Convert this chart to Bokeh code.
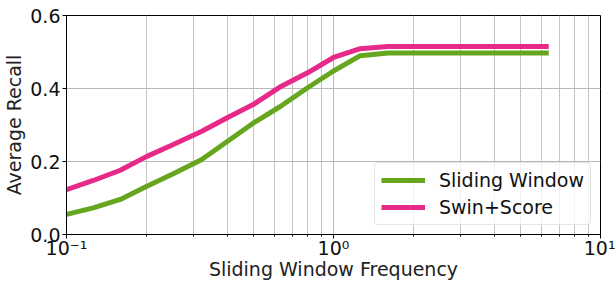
from bokeh.plotting import figure
from bokeh.embed import file_html
from bokeh.resources import INLINE
from bokeh.models import Legend, LegendItem, FixedTicker

freq = [0.1, 0.126, 0.159, 0.2, 0.25, 0.32, 0.4, 0.5, 0.63, 0.8, 1.0, 1.26, 1.6, 3.2, 6.4]
sliding_window = [0.055, 0.073, 0.096, 0.132, 0.166, 0.205, 0.255, 0.305, 0.350, 0.402, 0.448, 0.490, 0.497, 0.497, 0.497]
swin_score = [0.123, 0.148, 0.176, 0.214, 0.246, 0.282, 0.320, 0.356, 0.404, 0.443, 0.485, 0.509, 0.515, 0.515, 0.515]

x_ticks = [0.1, 1, 10]
x_tick_labels = ["10\u207b\u00b9", "10\u2070", "10\u00b9"]
x_minor_ticks = [m * d for d in (0.1, 1) for m in range(2, 10)]
y_ticks = [0.0, 0.2, 0.4, 0.6]
y_tick_labels = ["0.0", "0.2", "0.4", "0.6"]
x_title = "Sliding Window Frequency"
y_title = "Average Recall"

FONT = "DejaVu Sans"
FS = "19px"

p = figure(width=615, height=282, x_axis_type="log", x_range=(0.1, 10), y_range=(0, 0.6),
           output_backend="svg", toolbar_location=None,
           min_border_left=66, min_border_right=15, min_border_top=15, min_border_bottom=46)

l1 = p.line(freq, sliding_window, line_color="#66A61E", line_width=5)
l2 = p.line(freq, swin_score, line_color="#E7298A", line_width=5)

p.xaxis.ticker = FixedTicker(ticks=x_ticks, minor_ticks=x_minor_ticks)
p.xaxis.major_label_overrides = {t: s for t, s in zip(x_ticks, x_tick_labels)}
p.yaxis.ticker = FixedTicker(ticks=y_ticks)
p.yaxis.major_label_overrides = {t: s for t, s in zip(y_ticks, y_tick_labels)}

p.xaxis.axis_label = x_title
p.yaxis.axis_label = y_title
for ax in (p.xaxis, p.yaxis):
    ax.axis_label_text_font = FONT
    ax.axis_label_text_font_style = "normal"
    ax.axis_label_text_font_size = FS
    ax.axis_label_text_color = "#222222"
    ax.major_label_text_font = FONT
    ax.major_label_text_font_size = FS
    ax.major_label_text_color = "#111111"
    ax.axis_line_color = "black"
    ax.major_tick_line_color = "black"
    ax.major_tick_out = 4
    ax.major_tick_in = 0
    ax.minor_tick_line_color = "black"
    ax.minor_tick_out = 2
    ax.minor_tick_in = 0
p.yaxis.minor_tick_line_color = None
p.xaxis.major_label_standoff = -2
p.xaxis.axis_label_standoff = -4
p.yaxis.major_label_standoff = 2
p.yaxis.axis_label_standoff = 2

p.xgrid.grid_line_color = "#b8b8b8"
p.xgrid.minor_grid_line_color = "#c4c4c4"
p.ygrid.grid_line_color = "#b8b8b8"
p.xgrid.ticker = p.xaxis.ticker
p.ygrid.ticker = p.yaxis.ticker

p.outline_line_color = "black"
p.outline_line_width = 1

legend = Legend(items=[LegendItem(label="Sliding Window", renderers=[l1]),
                       LegendItem(label="Swin+Score", renderers=[l2])],
                location="bottom_right")
legend.label_text_font = FONT
legend.label_text_font_size = FS
legend.label_text_color = "#111111"
legend.glyph_width = 44
legend.label_standoff = 14
legend.spacing = 5
legend.padding = 6
legend.margin = 9
legend.border_line_color = "#cccccc"
legend.border_radius = 4
legend.background_fill_alpha = 0.8
p.add_layout(legend)

open("out.html", "w").write(file_html(p, INLINE))
